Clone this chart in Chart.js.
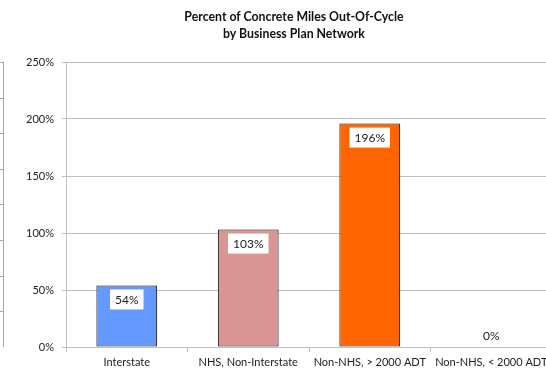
<!DOCTYPE html>
<html>
<head>
<meta charset="utf-8">
<script src="https://cdn.jsdelivr.net/npm/chart.js@4.4.1/dist/chart.umd.min.js"></script>
<style>
  html, body { margin: 0; padding: 0; background: #fff; overflow: hidden; }
  #wrap { position: relative; width: 560px; height: 368px; }
  #title {
    position: absolute; left: 0; top: 8px; width: 588px;
    text-align: center; font: bold 12.3px/17px Lato, "Open Sans", sans-serif; color: #111;
  }
  /* edge of the neighbouring chart's axis */
  #edge {
    position: absolute; left: 0; top: 62px; width: 3px; height: 285px;
    border-right: 1px solid #a6a6a6;
    background: repeating-linear-gradient(to bottom, #a6a6a6 0 1px, transparent 1px 35.6px);
  }
</style>
</head>
<body>
<div id="wrap">
  <canvas id="chart" width="560" height="368"></canvas>
  <div id="title">Percent of Concrete Miles Out-Of-Cycle<br>by Business Plan Network</div>
  <div id="edge"></div>
</div>
<script>
const categories = ['Interstate', 'NHS, Non-Interstate', 'Non-NHS, > 2000 ADT', 'Non-NHS, < 2000 ADT']
const outOfCycle = [54, 103, 196, 0]
const barColors = ['#6699ff', '#d99694', '#ff6600', '#ff6600']
const yTicks = [0, 50, 100, 150, 200, 250]

const FONT = 'Lato, "Open Sans", sans-serif'
const GRID = '#bfbfbf'

// white label boxes just inside the top of each bar
const barLabels = {
  id: 'barLabels',
  afterDatasetsDraw(chart) {
    const ctx = chart.ctx
    const meta = chart.getDatasetMeta(0)
    ctx.save()
    ctx.font = '12px ' + FONT
    ctx.textAlign = 'center'
    ctx.textBaseline = 'middle'
    meta.data.forEach((bar, i) => {
      const v = outOfCycle[i]
      const text = v + '%'
      const cy = v === 0 ? bar.y - 12 : bar.y + 14
      const w = ctx.measureText(text).width + 10
      ctx.fillStyle = '#fff'
      ctx.fillRect(bar.x - w / 2, cy - 10, w, 20)
      ctx.fillStyle = '#222'
      ctx.fillText(text, bar.x, cy + 1)
    })
    ctx.restore()
  }
}

new Chart(document.getElementById('chart'), {
  type: 'bar',
  data: {
    labels: categories,
    datasets: [{
      data: outOfCycle,
      backgroundColor: barColors,
      borderColor: '#111',
      borderWidth: 1,
      borderSkipped: false,
      barPercentage: 0.5,
      categoryPercentage: 1
    }]
  },
  options: {
    responsive: false,
    animation: false,
    layout: { padding: { left: 22, right: 8, top: 62, bottom: 0 } },
    plugins: {
      legend: { display: false },
      tooltip: { enabled: false },
      title: { display: false }
    },
    scales: {
      x: {
        grid: { drawOnChartArea: false, color: GRID, tickLength: 5, offset: true },
        border: { color: GRID, width: 1 },
        ticks: { color: '#222', font: { family: FONT, size: 11 }, padding: 4, maxRotation: 0, autoSkip: false },
        afterFit: scale => { scale.height = 21 }
      },
      y: {
        min: 0,
        max: 250,
        afterBuildTicks: scale => { scale.ticks = yTicks.map(v => ({ value: v })) },
        grid: { color: GRID, tickLength: 4 },
        border: { color: GRID, width: 1 },
        ticks: {
          color: '#222',
          font: { family: FONT, size: 11 },
          padding: 8,
          callback: v => v + '%'
        },
        afterFit: scale => { scale.width = 44 }
      }
    }
  },
  plugins: [barLabels]
})
</script>
</body>
</html>
